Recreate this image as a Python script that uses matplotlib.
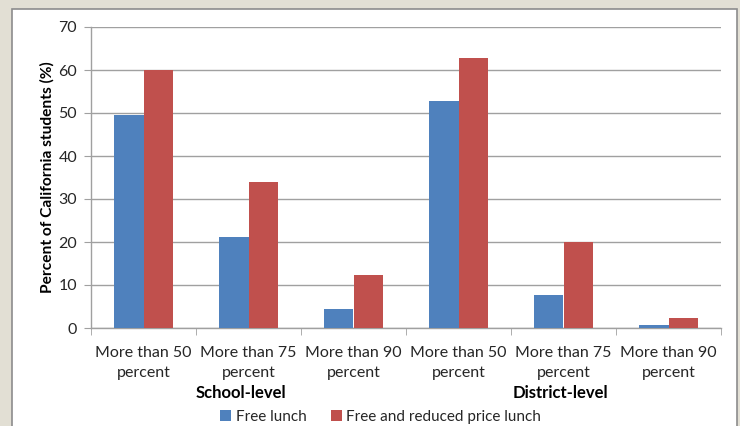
import matplotlib
matplotlib.use("Agg")
import matplotlib.pyplot as plt
from matplotlib.patches import Rectangle
import numpy as np

categories = ["More than 50\npercent", "More than 75\npercent", "More than 90\npercent",
              "More than 50\npercent", "More than 75\npercent", "More than 90\npercent"]
groups = ["School-level", "District-level"]
free_lunch = [49.6, 21.2, 4.4, 52.8, 7.7, 0.7]
free_reduced = [60.0, 34.0, 12.3, 62.8, 20.0, 2.3]
series_names = ["Free lunch", "Free and reduced price lunch"]
yticks = [0, 10, 20, 30, 40, 50, 60, 70]

BLUE = "#4f81bd"
RED = "#c0504d"
GRID = "#a0a0a0"
TEXT = "#262626"

plt.rcParams["font.family"] = ["Lato", "DejaVu Sans"]

W, H = 740, 426
fig = plt.figure(figsize=(W / 100, H / 100), dpi=100)
fig.patch.set_facecolor("#e2dfd4")

# white chart panel with a grey frame
panel = Rectangle((12 / W, -0.05), (737 - 12) / W, 1.05 - 9 / H,
                  transform=fig.transFigure, facecolor="white",
                  edgecolor="#8c8c8c", linewidth=1.2, zorder=-5)
fig.patches.append(panel)

ax = fig.add_axes([91 / W, 1 - 328 / H, (721 - 91) / W, (328 - 27) / H])
ax.set_facecolor("none")
ax.set_zorder(2)

x = np.arange(len(categories))
bw = 0.28
ax.bar(x - bw / 2, free_lunch, bw, color=BLUE, label=series_names[0], zorder=3)
ax.bar(x + bw / 2, free_reduced, bw, color=RED, label=series_names[1], zorder=3)

ax.set_xlim(-0.5, len(categories) - 0.5)
ax.set_ylim(0, 70)
ax.set_yticks(yticks)
ax.yaxis.grid(True, color=GRID, linewidth=1.0)
ax.set_axisbelow(True)

ax.set_xticks(x)
ax.set_xticklabels(categories, fontsize=11.5, color=TEXT, linespacing=1.5)
ax.set_xticks(np.arange(len(categories) + 1) - 0.5, minor=True)
ax.tick_params(axis="x", which="major", length=0, pad=13)
ax.tick_params(axis="x", which="minor", length=5, color=GRID, direction="out")
ax.tick_params(axis="y", length=5, color=GRID, labelsize=11.5, labelcolor=TEXT, pad=5)

for s in ["top", "right"]:
    ax.spines[s].set_visible(False)
for s in ["left", "bottom"]:
    ax.spines[s].set_color(GRID)
    ax.spines[s].set_linewidth(1.0)

ax.set_ylabel("Percent of California students (%)", fontsize=11.2, fontweight="bold",
              color="black", labelpad=3)

# group labels beneath the category labels
group_pos = [0.93, 3.97]
for gx, g in zip(group_pos, groups):
    ax.text(gx, -0.215, g, transform=ax.get_xaxis_transform(),
            ha="center", va="center", fontsize=12, fontweight="bold", color="black")

leg = ax.legend(loc="center", bbox_to_anchor=(0.46, -0.295), ncol=2, frameon=False,
                fontsize=11, handlelength=0.7, handleheight=0.7, handletextpad=0.3,
                columnspacing=1.6, labelcolor=TEXT, borderpad=0)

fig.savefig("out.png", dpi=100, facecolor=fig.get_facecolor())
